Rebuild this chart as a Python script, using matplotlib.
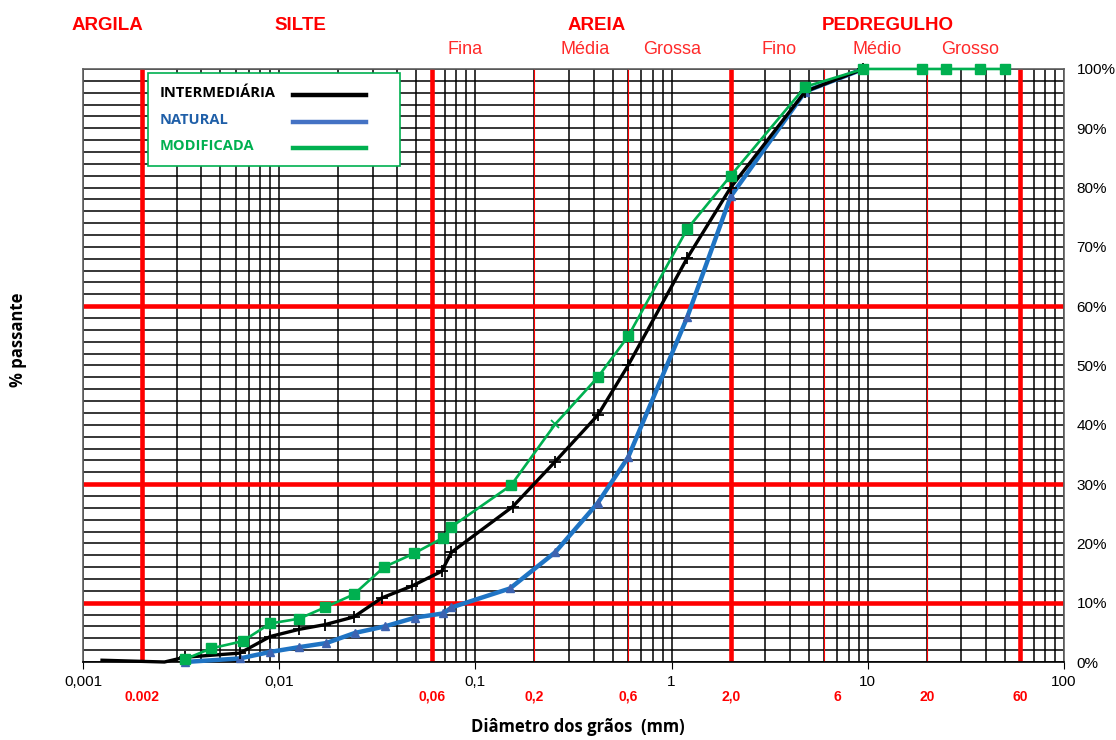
import numpy as np
import matplotlib
matplotlib.use('Agg')
import matplotlib.pyplot as plt
from matplotlib.ticker import LogLocator, MultipleLocator, FixedLocator, FuncFormatter
from matplotlib.transforms import blended_transform_factory
from matplotlib.patches import Rectangle

plt.rcParams['font.family'] = ['Liberation Sans', 'DejaVu Sans']

# dados (diâmetro em mm, % passante)
inter_d = [0.00125, 0.0026, 0.0033, 0.0063, 0.009, 0.0126, 0.0171, 0.024, 0.0333, 0.0474,
           0.0673, 0.0755, 0.155, 0.255, 0.42, 0.6, 1.2, 2.0, 4.8, 9.5]
inter_p = [0.3, 0.0, 0.8, 1.5, 4.3, 5.5, 6.3, 7.6, 10.8, 12.8,
           15.3, 18.5, 26.2, 33.8, 41.6, 50.0, 68.1, 80.0, 96.2, 100.0]

nat_d = [0.0033, 0.0063, 0.009, 0.0126, 0.0174, 0.0243, 0.0345, 0.0495, 0.0687, 0.0755,
         0.15, 0.255, 0.42, 0.6, 1.2, 2.0, 4.8, 9.5]
nat_p = [0.0, 0.6, 1.7, 2.5, 3.2, 4.9, 6.0, 7.5, 8.2, 9.2,
         12.4, 18.5, 26.8, 34.5, 58.1, 78.5, 96.2, 100.0]

mod_d = [0.0033, 0.0045, 0.0065, 0.009, 0.0126, 0.0171, 0.024, 0.0342, 0.0486, 0.068,
         0.0755, 0.152, 0.255, 0.42, 0.6, 1.2, 2.0, 4.8, 9.5, 19, 25, 37.5, 50]
mod_p = [0.45, 2.3, 3.5, 6.5, 7.3, 9.2, 11.4, 16.0, 18.3, 20.9,
         22.8, 29.8, 40.1, 48.0, 54.9, 73.0, 82.0, 97.0, 100, 100, 100, 100, 100]

# linhas de classificação
red_thick_x = [0.002, 0.06, 2.0, 60]
red_thin_x = [0.2, 0.6, 6, 20]
red_h = [10, 30, 60]
red_tick_x = [0.002, 0.06, 0.2, 0.6, 2.0, 7.0, 20, 60]
red_tick_lab = ['0.002', '0,06', '0,2', '0,6', '2,0', '6', '20', '60']
dec_x = [0.001, 0.01, 0.1, 1, 10, 100]
dec_lab = ['0,001', '0,01', '0,1', '1', '10', '100']

RED = '#ff0000'
GREEN = '#00b050'
BLUE = '#1f74c4'

fig = plt.figure(figsize=(11.16, 7.4), dpi=100)
ax = fig.add_axes([0.0744, 0.1054, 0.8790, 0.8014])
ax.set_xscale('log')
ax.set_xlim(0.001, 100)
ax.set_ylim(0, 100)

# grade
ax.xaxis.set_major_locator(FixedLocator(dec_x))
ax.xaxis.set_minor_locator(LogLocator(base=10, subs=np.arange(2, 10)))
ax.yaxis.set_major_locator(MultipleLocator(10))
ax.yaxis.set_minor_locator(MultipleLocator(2))
ax.grid(which='both', color='black', lw=1.1, zorder=1)
ax.set_axisbelow(True)

for x in red_thick_x:
    ax.axvline(x, color=RED, lw=3.3, zorder=2)
for x in red_thin_x:
    ax.axvline(x, color=RED, lw=0.8, zorder=2)
for y in red_h:
    ax.axhline(y, color=RED, lw=3.3, zorder=2)

# curvas
ax.plot(inter_d, inter_p, color='black', lw=2.4, marker='+', ms=8, mew=1.3, zorder=5,
        markevery=list(range(2, len(inter_d))), clip_on=False)
ax.plot(nat_d, nat_p, color=BLUE, lw=3.2, marker='^', ms=6, mfc='#3d63b0', mec='#3d63b0',
        zorder=4, clip_on=False)
sq = [i for i in range(len(mod_d)) if i != 12]
ax.plot(mod_d, mod_p, color=GREEN, lw=1.9, marker='s', ms=6.5, markevery=sq, zorder=6, clip_on=False)
ax.plot(mod_d[12], mod_p[12], color=GREEN, marker='x', ms=6, mew=1.3, zorder=6)

# eixos
ax.xaxis.set_major_formatter(FuncFormatter(lambda v, p: dec_lab[dec_x.index(v)] if v in dec_x else ''))
ax.xaxis.set_minor_formatter(FuncFormatter(lambda v, p: ''))
ax.tick_params(axis='x', which='major', length=5, labelsize=11, pad=4)
ax.tick_params(axis='x', which='minor', length=0)
ax.yaxis.tick_right()
ax.yaxis.set_major_formatter(FuncFormatter(lambda v, p: '%d%%' % v))
ax.tick_params(axis='y', which='both', length=0, labelsize=11, pad=9)
for s in ax.spines.values():
    s.set_color('#606060')
    s.set_linewidth(1.2)
ax.spines['bottom'].set_color('black')

trans = blended_transform_factory(ax.transData, ax.transAxes)
for x, lab in zip(red_tick_x, red_tick_lab):
    ax.text(x, -0.059, lab, transform=trans, color=RED, fontsize=10, fontweight='bold',
            ha='center', va='center')

fig.text(578 / 1116, 1 - 727 / 740, 'Diâmetro dos grãos  (mm)', fontsize=12, fontweight='bold',
         ha='center', va='center', family=['Open Sans', 'DejaVu Sans'])
fig.text(18 / 1116, 1 - 340 / 740, '% passante', fontsize=12, fontweight='bold', rotation=90,
         ha='center', va='center', family=['Open Sans', 'DejaVu Sans'])

# classes
for x, lab in [(107, 'ARGILA'), (300, 'SILTE'), (597, 'AREIA'), (888, 'PEDREGULHO')]:
    fig.text(x / 1116, 1 - 25 / 740, lab, color=RED, fontsize=13.5, fontweight='bold',
             ha='center', va='center')
for x, lab in [(465, 'Fina'), (585, 'Média'), (672, 'Grossa'), (779, 'Fino'), (877, 'Médio'), (970, 'Grosso')]:
    fig.text(x / 1116, 1 - 50 / 740, lab, color='#ff2a2a', fontsize=13, ha='center', va='center')

# legenda desenhada à mão (texto à esquerda, linha à direita)
def fx(px):
    return px / 1116
def fy(py):
    return 1 - py / 740

fig.patches.append(Rectangle((fx(148), fy(166)), fx(400) - fx(148), fy(73) - fy(166),
                             transform=fig.transFigure, facecolor='white', edgecolor=GREEN,
                             lw=1.2, zorder=10))
leg_items = [('INTERMEDIÁRIA', 'black', 'black', 95),
             ('NATURAL', '#1f5fa8', '#4472c4', 122),
             ('MODIFICADA', GREEN, GREEN, 148)]
for lab, tc, lc, py in leg_items:
    fig.text(fx(160), fy(py - 2), lab, color=tc, fontsize=10.5, fontweight='bold',
             ha='left', va='center', family=['Open Sans', 'DejaVu Sans'], zorder=11)
    fig.lines.append(plt.Line2D([fx(293), fx(366)], [fy(py), fy(py)], transform=fig.transFigure,
                                color=lc, lw=3.2, zorder=11))

fig.savefig('out.png', dpi=100)
